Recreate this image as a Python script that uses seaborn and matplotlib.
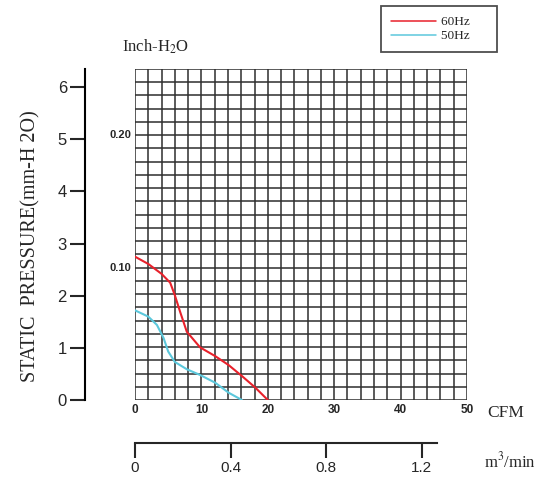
import numpy as np
import pandas as pd
import seaborn as sns
from matplotlib import pyplot as plt

# fan curve (CFM vs static pressure in mm-H2O)
cfm_60 = [0, 2.0, 4.0, 5.3, 6.0, 6.8, 7.8, 9.8, 12.1, 14.1, 16.1, 18.1, 20.0]
mm_60 = [2.75, 2.61, 2.42, 2.25, 2.01, 1.69, 1.31, 1.01, 0.84, 0.67, 0.46, 0.24, 0.0]
cfm_50 = [0, 2.0, 3.3, 4.3, 5.0, 6.0, 7.8, 9.8, 12.1, 14.1, 16.1]
mm_50 = [1.72, 1.60, 1.44, 1.19, 0.93, 0.73, 0.59, 0.48, 0.33, 0.14, 0.0]

cfm_ticks = [0, 10, 20, 30, 40, 50]
mm_ticks = [0, 1, 2, 3, 4, 5, 6]
inch_ticks = [0.10, 0.20]
m3_ticks = [0, 0.4, 0.8, 1.2]

df = pd.concat([
    pd.DataFrame({'cfm': cfm_60, 'mm': mm_60, 'freq': '60Hz'}),
    pd.DataFrame({'cfm': cfm_50, 'mm': mm_50, 'freq': '50Hz'}),
])

sns.set_style("white")
plt.rcParams['font.family'] = ['Liberation Sans', 'DejaVu Sans']
plt.rcParams['mathtext.fontset'] = 'stix'

W, H = 546, 482
fig = plt.figure(figsize=(W / 100, H / 100), dpi=100)
ax = fig.add_axes([135 / W, (H - 400) / H, 332 / W, 331 / H])

top = 0.25 * 25.4
# grid: every 2 CFM / every 0.01 inch
for x in np.arange(0, 50.1, 2):
    ax.axvline(x, color='#2e2e2e', lw=1.1, zorder=1)
for i in range(26):
    ax.axhline(i * 0.254, color='#2e2e2e', lw=1.1, zorder=1)

sns.lineplot(data=df, x='cfm', y='mm', hue='freq', palette={'60Hz': '#e8212b', '50Hz': '#5cc8dc'},
             lw=1.5, sort=False, estimator=None, ax=ax, zorder=3)

ax.set_xlim(0, 50)
ax.set_ylim(0, top)
for s in ['top', 'right', 'bottom']:
    ax.spines[s].set_visible(False)
ax.spines['left'].set_position(('outward', 36))
ax.spines['left'].set_linewidth(1.5)
ax.spines['left'].set_color('black')
ax.set_yticks(mm_ticks)
ax.set_yticklabels([str(v) for v in mm_ticks], fontsize=12)
ax.tick_params(axis='y', length=11, width=1.5, direction='out', pad=2, left=True)
ax.set_xticks(cfm_ticks)
ax.set_xticklabels([str(v) for v in cfm_ticks], fontsize=8.5, fontweight='bold')
ax.tick_params(axis='x', length=0, pad=3)
ax.set_xlabel('')
ax.set_ylabel('STATIC  PRESSURE(mm-H 2O)', family='Liberation Serif', fontsize=14.5)
ax.yaxis.set_label_coords(-0.285, 0.465)

for v in inch_ticks:
    ax.text(-0.6, v * 25.4, f'{v:.2f}', ha='right', va='center', fontsize=8, fontweight='bold')

ax.text(-2.0, 6.77, r'Inch-H$_2$O', family='Liberation Serif', fontsize=12, ha='left', va='center')
ax.text(1.06, -0.015, 'CFM', transform=ax.transAxes, family='Liberation Serif', fontsize=12.5,
        ha='left', va='top')

leg = ax.legend(loc='upper left', bbox_to_anchor=(381 / W, 1 - 6 / H), bbox_transform=fig.transFigure,
                prop={'family': 'Liberation Serif', 'size': 9.5}, frameon=True, fancybox=False,
                handlelength=3.4, handletextpad=0.4, borderpad=0.75, labelspacing=0.15,
                borderaxespad=0)
for t in leg.get_texts():
    t.set_text(t.get_text() + '     ')
for ln in leg.get_lines():
    ln.set_linewidth(1.1)
leg.get_frame().set_edgecolor('#222222')
leg.get_frame().set_linewidth(1.3)

ax2 = fig.add_axes([135 / W, (H - 443) / H, 302 / W, 0.001])
ax2.set_xlim(0, 302 / 239)
ax2.set_ylim(0, 1)
for s in ['top', 'right', 'left']:
    ax2.spines[s].set_visible(False)
ax2.spines['bottom'].set_linewidth(1.5)
ax2.set_yticks([])
ax2.set_xticks(m3_ticks)
ax2.set_xticklabels(['0', '0.4', '0.8', '1.2'], fontsize=11)
ax2.tick_params(axis='x', length=11, width=1.5, direction='out', pad=2, bottom=True)
ax2.patch.set_visible(False)
fig.text(484 / W, 1 - 461 / H, r'm$^3$/min', family='Liberation Serif', fontsize=12, ha='left', va='center')

fig.savefig('out.png', dpi=100)
